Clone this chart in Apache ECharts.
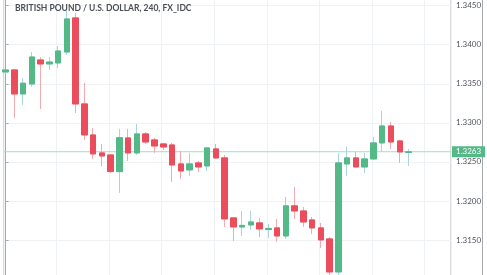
<!DOCTYPE html>
<html>
<head>
<meta charset="utf-8">
<script src="https://cdn.jsdelivr.net/npm/echarts@6/dist/echarts.min.js"></script>
<style>
html,body{margin:0;padding:0;background:#fff;}
#c{width:487px;height:275px;}
</style>
</head>
<body>
<div id="c"></div>
<script>
const titleText = 'BRITISH POUND / U.S. DOLLAR, 240, FX_IDC';
const opens = [1.33651,1.33677,1.33370,1.33498,1.33805,1.33754,1.33767,1.33907,1.34343,1.33242,1.32845,1.32615,1.32589,1.32375,1.32807,1.32615,1.32858,1.32781,1.32730,1.32717,1.32474,1.32397,1.32487,1.32448,1.32666,1.32551,1.31783,1.31667,1.31693,1.31719,1.31635,1.31655,1.31552,1.31937,1.31872,1.31757,1.31655,1.31514,1.31091,1.32474,1.32551,1.32435,1.32538,1.32743,1.32960,1.32768,1.32621];
const closes = [1.33677,1.33370,1.33507,1.33843,1.33754,1.33779,1.33920,1.34330,1.33242,1.32845,1.32602,1.32576,1.32378,1.32810,1.32615,1.32858,1.32755,1.32704,1.32691,1.32461,1.32384,1.32474,1.32435,1.32679,1.32551,1.31770,1.31667,1.31687,1.31731,1.31642,1.31648,1.31552,1.31937,1.31872,1.31731,1.31655,1.31501,1.31091,1.32487,1.32551,1.32435,1.32538,1.32743,1.32960,1.32755,1.32628,1.32630];
const highs = [1.33690,1.33690,1.33575,1.33907,1.33843,1.33843,1.33984,1.34483,1.34410,1.33511,1.32935,1.32730,1.32590,1.32922,1.32922,1.32986,1.32883,1.32807,1.32743,1.32743,1.32640,1.32615,1.32512,1.32691,1.32730,1.32589,1.31795,1.31872,1.31872,1.31783,1.31706,1.31770,1.32051,1.32179,1.31923,1.31795,1.31719,1.31539,1.32615,1.32698,1.32628,1.32615,1.32819,1.33152,1.33011,1.32781,1.32666];
const lows = [1.33630,1.33063,1.33229,1.33459,1.33178,1.33677,1.33703,1.33869,1.33127,1.32781,1.32538,1.32448,1.32359,1.32103,1.32512,1.32589,1.32730,1.32615,1.32653,1.32243,1.32282,1.32320,1.32371,1.32384,1.32538,1.31667,1.31488,1.31552,1.31629,1.31539,1.31527,1.31475,1.31514,1.31770,1.31667,1.31578,1.31399,1.31027,1.31027,1.32320,1.32435,1.32359,1.32525,1.32628,1.32666,1.32487,1.32448];
const lastPrice = 1.3263;
const yTicks = {min: 1.3100, max: 1.3500, step: 0.005};
const xRange = {min: -0.183, max: 50.85};

const idx = opens.map((o, i) => i);
const full = idx.map(i => [i, opens[i], closes[i], lows[i], highs[i]]);
const bodies = idx.map(i => [i, opens[i], closes[i], Math.min(opens[i], closes[i]), Math.max(opens[i], closes[i])]);
const priceLine = [[xRange.min, lastPrice], [xRange.max, lastPrice]];

const UP = '#53b987', DOWN = '#eb4d5c', UPW = '#a9d6dd', DOWNW = '#f4a9b0';
const FONT = 'Lato, "Liberation Sans", sans-serif';

const chart = echarts.init(document.getElementById('c'), null, {renderer: 'canvas'});
chart.setOption({
  animation: false,
  backgroundColor: '#ffffff',
  title: {
    text: titleText, left: 10, top: -1,
    textStyle: {fontSize: 8.5, fontWeight: 'bold', color: '#4a4e55', fontFamily: FONT}
  },
  grid: {left: 4, right: 36, top: -33.39, bottom: -4.06, containLabel: false, outerBoundsMode: 'none',
         show: true, borderColor: '#b4b7bc', borderWidth: 1, backgroundColor: 'transparent'},
  xAxis: {
    type: 'value', min: xRange.min, max: xRange.max, interval: 6,
    axisLine: {show: false}, axisTick: {show: false}, axisLabel: {show: false},
    splitLine: {show: true, lineStyle: {color: '#eef2f5', width: 1}}
  },
  yAxis: [{
    type: 'value', position: 'right', min: yTicks.min, max: yTicks.max, interval: yTicks.step,
    axisLine: {show: true, lineStyle: {color: '#a6a9ae', width: 1}},
    axisTick: {show: true, length: 3, lineStyle: {color: '#a6a9ae'}},
    axisLabel: {margin: 5, fontSize: 8, color: '#50545c', fontFamily: FONT, formatter: v => v.toFixed(4)},
    splitLine: {show: true, lineStyle: {color: '#eef2f5', width: 1}}
  }, {
    type: 'value', position: 'right', offset: 31, min: yTicks.min, max: yTicks.max,
    axisLine: {show: true, lineStyle: {color: '#a6a9ae', width: 1}},
    axisTick: {show: false}, axisLabel: {show: false}, splitLine: {show: false}
  }],
  series: [{
    type: 'line', data: priceLine, symbol: 'none', silent: true, z: 1,
    lineStyle: {color: '#a3dcc2', width: 1},
    endLabel: {
      show: true, distance: 1, formatter: () => lastPrice.toFixed(4),
      backgroundColor: UP, color: '#ffffff', fontSize: 8, fontFamily: FONT,
      padding: [2, 4, 1, 4]
    }
  }, {
    type: 'candlestick', data: full, encode: {x: 0, y: [1, 2, 3, 4]},
    barWidth: 6, clip: true, z: 2,
    itemStyle: {color: UP, color0: DOWN, borderColor: UPW, borderColor0: DOWNW, borderWidth: 1}
  }, {
    type: 'candlestick', data: bodies, encode: {x: 0, y: [1, 2, 3, 4]},
    barWidth: 6, clip: true, z: 3,
    itemStyle: {color: UP, color0: DOWN, borderColor: UP, borderColor0: DOWN, borderWidth: 1}
  }]
});
</script>
</body>
</html>
